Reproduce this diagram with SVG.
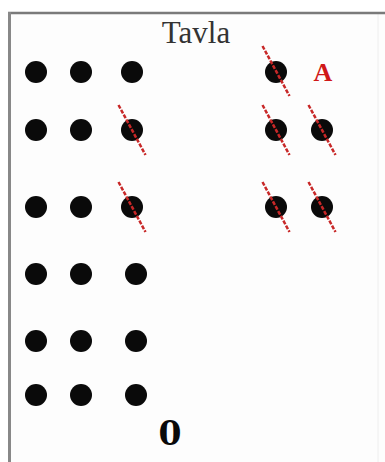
<svg xmlns="http://www.w3.org/2000/svg" width="385" height="462" viewBox="0 0 385 462">
<style>
.dot{fill:#0a0a0a}
.x{stroke:#c82828;stroke-width:2.5;stroke-dasharray:4 1.5}
.t{font-family:"Liberation Serif","DejaVu Serif",serif}
</style>
<rect width="385" height="462" fill="#ffffff"/>
<rect x="10" y="13" width="375" height="449" fill="#fdfdfd"/>
<line x1="378" y1="14" x2="378" y2="462" stroke="#eeeeee" stroke-width="1"/>
<line x1="8" y1="13" x2="385" y2="13" stroke="#7a7a7a" stroke-width="2.5"/>
<line x1="9.5" y1="12" x2="9.5" y2="462" stroke="#888888" stroke-width="3"/>
<g id="title"><text class="t" x="196" y="43" font-size="31" text-anchor="middle" fill="#333">Tavla</text></g>
<g id="left-dots">
<circle class="dot" cx="36" cy="72" r="11"/><circle class="dot" cx="81" cy="72" r="11"/><circle class="dot" cx="132" cy="72" r="11"/>
<circle class="dot" cx="36" cy="130" r="11"/><circle class="dot" cx="81" cy="130" r="11"/><circle class="dot" cx="132" cy="130" r="11"/>
<circle class="dot" cx="36" cy="207" r="11"/><circle class="dot" cx="81" cy="207" r="11"/><circle class="dot" cx="132" cy="207" r="11"/>
<circle class="dot" cx="36" cy="274" r="11"/><circle class="dot" cx="81" cy="274" r="11"/><circle class="dot" cx="136" cy="274" r="11"/>
<circle class="dot" cx="36" cy="341" r="11"/><circle class="dot" cx="81" cy="341" r="11"/><circle class="dot" cx="136" cy="341" r="11"/>
<circle class="dot" cx="36" cy="395" r="11"/><circle class="dot" cx="81" cy="395" r="11"/><circle class="dot" cx="136" cy="395" r="11"/>
</g>
<g id="right-dots">
<circle class="dot" cx="276" cy="72" r="11"/>
<circle class="dot" cx="276" cy="130" r="11"/><circle class="dot" cx="322" cy="130" r="11"/>
<circle class="dot" cx="276" cy="207" r="11"/><circle class="dot" cx="322" cy="207" r="11"/>
</g>
<g id="strikes">
<line class="x" x1="262.5" y1="46" x2="289.5" y2="96"/>
<line class="x" x1="118.5" y1="105" x2="145.5" y2="155"/>
<line class="x" x1="262.5" y1="105" x2="289.5" y2="155"/>
<line class="x" x1="308.5" y1="105" x2="335.5" y2="155"/>
<line class="x" x1="118.5" y1="182" x2="145.5" y2="232"/>
<line class="x" x1="262.5" y1="182" x2="289.5" y2="232"/>
<line class="x" x1="308.5" y1="182" x2="335.5" y2="232"/>
</g>
<g id="label-a"><text class="t" x="323" y="81" font-size="26" font-weight="bold" text-anchor="middle" fill="#d01818">A</text></g>
<g id="label-o"><text x="170" y="445" font-family="'DejaVu Serif',serif" font-size="33" font-weight="bold" text-anchor="middle" fill="#0a0a0a">0</text></g>
</svg>
